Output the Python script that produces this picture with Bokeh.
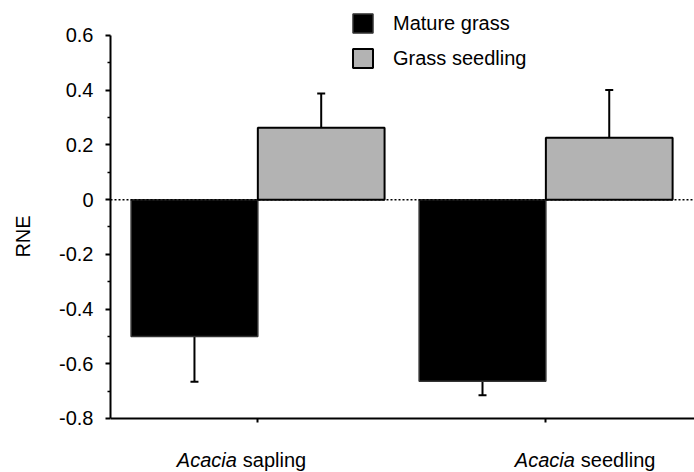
from bokeh.plotting import figure
from bokeh.models import (Span, Label, Legend, LegendItem, FixedTicker,
                          CustomJSTickFormatter, ColumnDataSource, Range1d)
from bokeh.embed import file_html
from bokeh.resources import INLINE

# ---- data ----
groups = ["Acacia sapling", "Acacia seedling"]
group_italic = ["Acacia", "Acacia"]
group_rest = ["sapling", "seedling"]
series = ["Mature grass", "Grass seedling"]
mature_vals = [-0.50, -0.664]
mature_err = [0.166, 0.051]
seedling_vals = [0.263, 0.226]
seedling_err = [0.125, 0.175]
y_ticks = [-0.8, -0.6, -0.4, -0.2, 0, 0.2, 0.4, 0.6]
y_minor = [-0.7, -0.5, -0.3, -0.1, 0.1, 0.3, 0.5]

FONT = "Liberation Sans"
FS = "20px"
BAR_W = 0.44
Y_AXIS_MIN = -0.8

xc = [i + 1 for i in range(len(groups))]
x_m = [c - BAR_W / 2 for c in xc]
x_s = [c + BAR_W / 2 for c in xc]

p = figure(width=694, height=472, output_backend="svg", toolbar_location=None,
           x_range=Range1d(0.4885, 2.516), y_range=Range1d(-0.9974, 0.7279),
           min_border_left=110, min_border_right=0, min_border_top=0,
           min_border_bottom=0)
p.outline_line_color = None
p.xgrid.visible = False
p.ygrid.visible = False

# zero line
p.add_layout(Span(location=0, dimension="width", line_color="black",
                  line_width=1.5, line_dash="2 2"))

src_m = ColumnDataSource(dict(x=x_m, top=mature_vals,
                              lo=[v - e for v, e in zip(mature_vals, mature_err)]))
src_s = ColumnDataSource(dict(x=x_s, top=seedling_vals,
                              hi=[v + e for v, e in zip(seedling_vals, seedling_err)]))

# error bars (one-sided, away from zero)
p.segment(x0="x", y0="top", x1="x", y1="lo", source=src_m, line_color="black", line_width=2)
p.scatter(x="x", y="lo", source=src_m, marker="dash", size=8, line_color="black", line_width=2)
p.segment(x0="x", y0="top", x1="x", y1="hi", source=src_s, line_color="black", line_width=2)
p.scatter(x="x", y="hi", source=src_s, marker="dash", size=8, line_color="black", line_width=2)

r_m = p.vbar(x="x", top="top", bottom=0, width=BAR_W, source=src_m,
             fill_color="black", line_color="#333333", line_width=1.5)
r_s = p.vbar(x="x", top="top", bottom=0, width=BAR_W, source=src_s,
             fill_color="#b3b3b3", line_color="black", line_width=2)

# y axis
ya = p.yaxis[0]
ya.ticker = FixedTicker(ticks=y_ticks, minor_ticks=y_minor)
ya.formatter = CustomJSTickFormatter(code="""
const v = Math.round(tick*10)/10;
return v === 0 ? "0" : v.toFixed(1);
""")
ya.bounds = (Y_AXIS_MIN, 0.6)
ya.axis_line_width = 2
ya.major_tick_line_width = 2
ya.minor_tick_line_width = 1.5
ya.major_tick_out = 5
ya.major_tick_in = 0
ya.minor_tick_out = 3
ya.minor_tick_in = 0
ya.major_label_text_font = FONT
ya.major_label_text_font_size = FS
ya.major_label_text_color = "black"
ya.major_label_standoff = 12
ya.axis_label = "RNE"
ya.axis_label_text_font = FONT
ya.axis_label_text_font_size = FS
ya.axis_label_text_font_style = "normal"
ya.axis_label_text_color = "black"
ya.axis_label_standoff = 22

# x axis, drawn at the bottom of the y scale
xa = p.xaxis[0]
xa.fixed_location = Y_AXIS_MIN
xa.ticker = FixedTicker(ticks=xc)
xa.major_label_overrides = {c: "" for c in xc}
xa.major_label_standoff = 0
xa.axis_line_width = 2
xa.major_tick_line_width = 2
xa.major_tick_out = 4
xa.major_tick_in = 0
xa.minor_tick_line_color = None

# category labels with italic genus
gap_offsets = [-18, 32]
for c, it, rest, off in zip(xc, group_italic, group_rest, gap_offsets):
    p.add_layout(Label(x=c, y=Y_AXIS_MIN, x_offset=off - 3, y_offset=-42, text=it,
                       text_align="right", text_baseline="alphabetic",
                       text_font=FONT, text_font_size=FS, text_font_style="italic",
                       text_color="black"))
    p.add_layout(Label(x=c, y=Y_AXIS_MIN, x_offset=off + 3, y_offset=-42, text=rest,
                       text_align="left", text_baseline="alphabetic",
                       text_font=FONT, text_font_size=FS,
                       text_color="black"))

legend = Legend(items=[LegendItem(label=series[0], renderers=[r_m]),
                       LegendItem(label=series[1], renderers=[r_s])],
                location=(240, 402), orientation="vertical",
                glyph_width=25, glyph_height=24, label_standoff=18, spacing=11,
                padding=0, margin=0, border_line_color=None,
                background_fill_alpha=0,
                label_text_font=FONT, label_text_font_size=FS,
                label_text_color="black", label_height=24)
p.add_layout(legend)

open("out.html", "w").write(file_html(p, INLINE))
